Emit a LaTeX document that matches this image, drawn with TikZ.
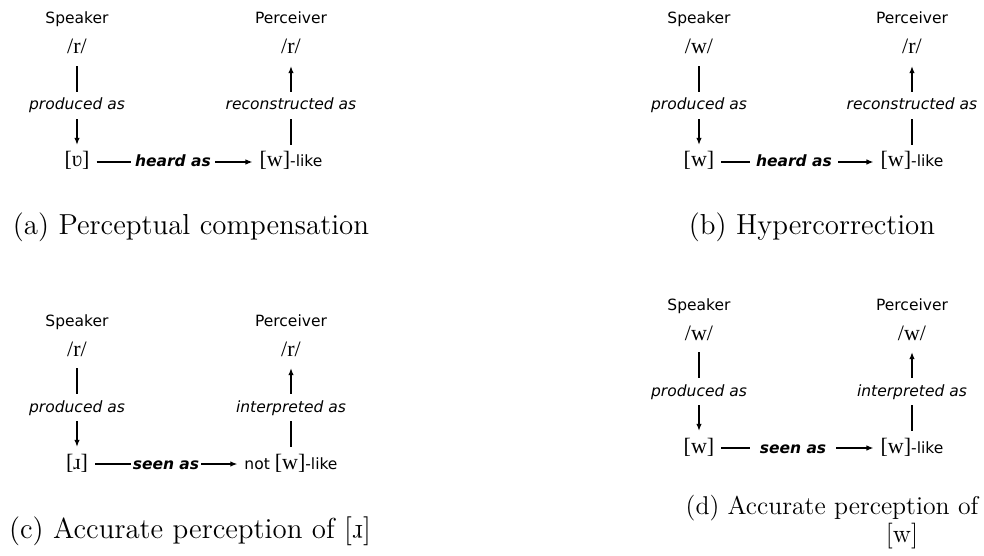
\documentclass[tikz,border=0pt]{standalone}
\usepackage{fontspec}
\usepackage{graphicx}
\usetikzlibrary{arrows.meta}

\newfontfamily\sansfam{DejaVu Sans}
\newfontfamily\ipafam{Liberation Serif}
\newcommand{\lbl}[1]{{\fontsize{15.5}{18}\sansfam #1}}
\newcommand{\turnr}{\rotatebox[origin=c]{180}{r}}

\tikzset{
  who/.style={font=\fontsize{15.5}{18}\sansfam, anchor=base, inner sep=0pt},
  phon/.style={font=\fontsize{22}{26}\ipafam, anchor=base, text height=14pt, text depth=4pt, inner xsep=7pt, inner ysep=8pt},
  how/.style={font=\fontsize{15.5}{18}\sansfam\itshape, anchor=base, text height=12pt, text depth=3pt, inner xsep=4pt, inner ysep=6pt},
  verb/.style={font=\fontsize{15.5}{18}\sansfam\bfseries\itshape, anchor=base, text height=12pt, text depth=2pt, inner ysep=0pt},
  link/.style={line width=1.2pt, >={Latex[length=7pt,width=5.5pt]}},
  subcap/.style={font=\fontsize{12}{14.5}\selectfont, scale=2.41, transform shape, anchor=base, inner sep=0pt},
}

\begin{document}
\begin{tikzpicture}[x=1pt, y=-1pt]
  \useasboundingbox (0,0) rectangle (984,556);

  % (a) perceptual compensation
  \node[who] (spkA) at (77,24) {Speaker};
  \node[who] (perA) at (291,24) {Perceiver};
  \node[phon] (srcA) at (77,54) {/r/};
  \node[phon] (tgtA) at (291,54) {/r/};
  \node[how] (prodA) at (77,110) {produced as};
  \node[how] (recA) at (291,110) {reconstructed as};
  \node[phon] (outA) at (77,167) {[ʋ]};
  \node[verb, inner xsep=4pt] (heardA) at (173,167) {heard as};
  \node[phon] (inA) at (291,167) {[w]\lbl{-like}};
  \draw[link] (srcA) -- (prodA);
  \draw[link,->] (prodA) -- (outA);
  \draw[link] (outA) -- (heardA);
  \draw[link,->] (heardA) -- (inA);
  \draw[link] (inA) -- (recA);
  \draw[link,->] (recA) -- (tgtA);

  % (b) hypercorrection
  \begin{scope}[shift={(622,0)}]
    \node[who] (spkB) at (77,24) {Speaker};
    \node[who] (perB) at (290,24) {Perceiver};
    \node[phon] (srcB) at (77,54) {/w/};
    \node[phon] (tgtB) at (290,54) {/r/};
    \node[how] (prodB) at (77,110) {produced as};
    \node[how] (recB) at (290,110) {reconstructed as};
    \node[phon] (outB) at (77,167) {[w]};
    \node[verb, inner xsep=6pt] (heardB) at (172,167) {heard as};
    \node[phon] (inB) at (290,167) {[w]\lbl{-like}};
    \draw[link] (srcB) -- (prodB);
    \draw[link,->] (prodB) -- (outB);
    \draw[link] (outB) -- (heardB);
    \draw[link,->] (heardB) -- (inB);
    \draw[link] (inB) -- (recB);
    \draw[link,->] (recB) -- (tgtB);
  \end{scope}

  % (c) accurate perception of the approximant
  \begin{scope}[shift={(0,302)}]
    \node[who] (spkC) at (77,24) {Speaker};
    \node[who] (perC) at (291,24) {Perceiver};
    \node[phon] (srcC) at (77,54) {/r/};
    \node[phon] (tgtC) at (291,54) {/r/};
    \node[how] (prodC) at (77,110) {produced as};
    \node[how] (intC) at (291,110) {interpreted as};
    \node[phon] (outC) at (77,167) {[ɹ]};
    \node[verb, inner xsep=2pt] (seenC) at (166,167) {seen as};
    \node[phon] (inC) at (291,167) {\lbl{not }[w]\lbl{-like}};
    \draw[link] (srcC) -- (prodC);
    \draw[link,->] (prodC) -- (outC);
    \draw[link] (outC) -- (seenC);
    \draw[link,->] (seenC) -- (inC);
    \draw[link] (inC) -- (intC);
    \draw[link,->] (intC) -- (tgtC);
  \end{scope}

  % (d) accurate perception of [w]
  \begin{scope}[shift={(622,286)}]
    \node[who] (spkD) at (77,24) {Speaker};
    \node[who] (perD) at (290,24) {Perceiver};
    \node[phon] (srcD) at (77,54) {/w/};
    \node[phon] (tgtD) at (290,54) {/w/};
    \node[how] (prodD) at (77,110) {produced as};
    \node[how] (intD) at (290,110) {interpreted as};
    \node[phon] (outD) at (77,167) {[w]};
    \node[verb, inner xsep=10pt] (seenD) at (171,167) {seen as};
    \node[phon] (inD) at (290,167) {[w]\lbl{-like}};
    \draw[link] (srcD) -- (prodD);
    \draw[link,->] (prodD) -- (outD);
    \draw[link] (outD) -- (seenD);
    \draw[link,->] (seenD) -- (inD);
    \draw[link] (inD) -- (intD);
    \draw[link,->] (intD) -- (tgtD);
  \end{scope}

  % captions
  \node[subcap] (capA) at (191,234) {(a) Perceptual compensation};
  \node[subcap] (capB) at (812,234) {(b) Hypercorrection};
  \node[subcap] (capC) at (190,538) {(c) Accurate perception of [\turnr]};
  \node[subcap, scale=0.89] (capD) at (832,514) {(d) Accurate perception of};
  \node[subcap, scale=0.89] (capDw) at (902,542) {[w]};
\end{tikzpicture}
\end{document}
